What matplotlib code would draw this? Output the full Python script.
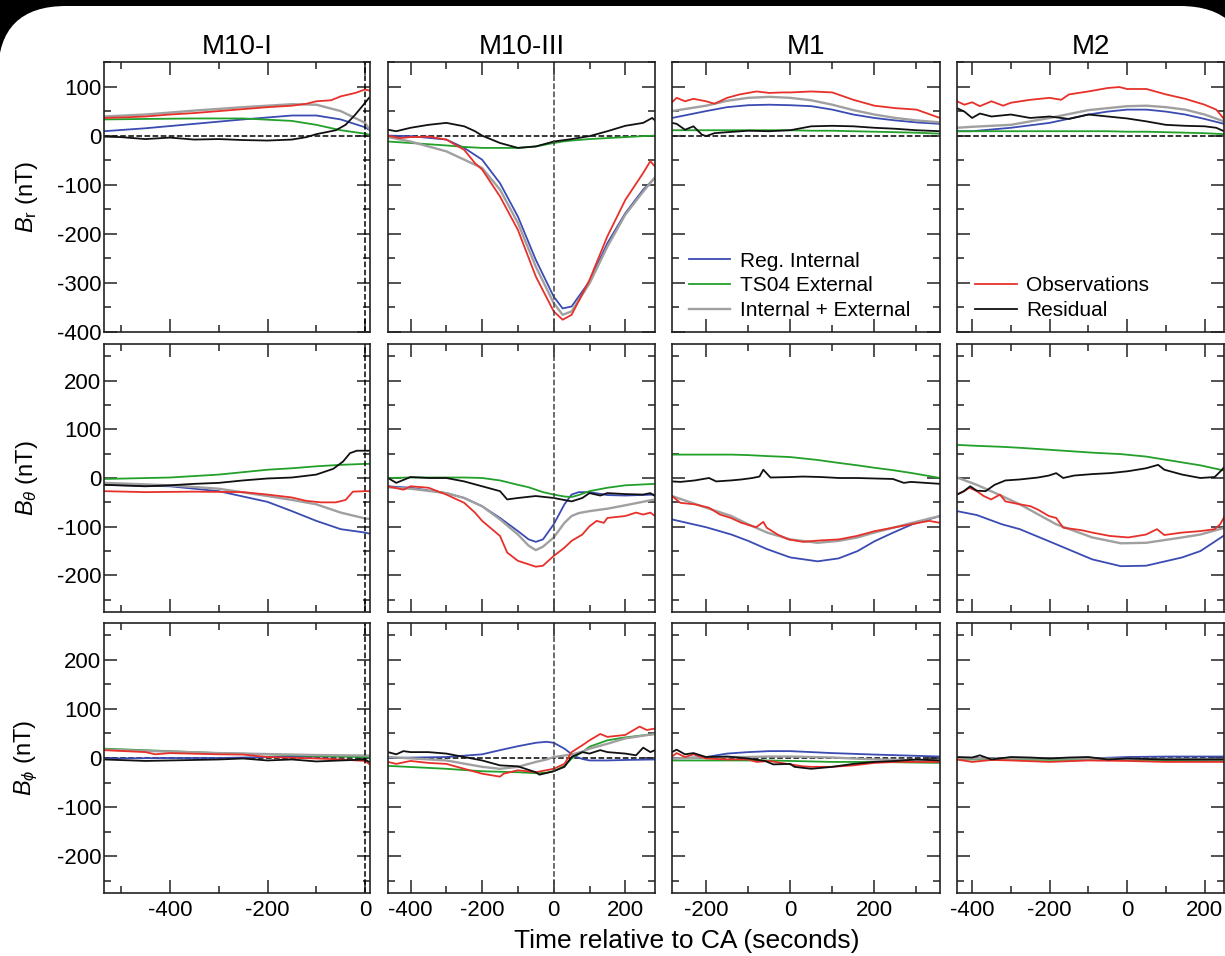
import numpy as np
import matplotlib.pyplot as plt
from matplotlib.patches import FancyBboxPatch
from matplotlib.transforms import IdentityTransform
from matplotlib.ticker import MultipleLocator

plt.rcParams['font.family'] = ['Liberation Sans', 'DejaVu Sans']
plt.rcParams['axes.unicode_minus'] = False
plt.rcParams['mathtext.fontset'] = 'custom'
plt.rcParams['mathtext.rm'] = 'Liberation Sans'
plt.rcParams['mathtext.it'] = 'Liberation Sans:italic'

# ---------------- data (nT vs seconds from CA) ----------------
# M10-I, B_r
m10i_br_t = [-535, -450, -350, -250, -150, -100, -50, 0, 8]
m10i_br_reg = [9, 15, 24, 33, 41, 41, 33, 17, 12]
m10i_br_ext = [33, 34, 35, 35, 30, 22, 11, 4, 2]
m10i_br_tot = [39, 43, 51, 58, 64, 63, 50, 26, 14]
m10i_br_obs_t = [-535, -500, -450, -400, -350, -300, -250, -200, -150, -120, -100, -70, -50, -20, 0, 8]
m10i_br_obs = [36, 37, 39, 43, 46, 50, 54, 58, 61, 65, 70, 72, 80, 87, 94, 92]
m10i_br_res_t = [-535, -500, -450, -400, -350, -300, -250, -200, -150, -120, -100, -60, -40, -20, 0, 8]
m10i_br_res = [-2, -3, -7, -4, -8, -7, -9, -10, -8, -3, 3, 11, 22, 43, 67, 77]

# M10-III, B_r
m10iii_br_t = [-463, -400, -300, -250, -200, -150, -100, -50, 0, 25, 50, 100, 150, 200, 250, 283]
m10iii_br_reg = [0, -1, -8, -25, -49, -97, -165, -253, -328, -352, -348, -297, -219, -158, -110, -86]
m10iii_br_ext = [-12, -15, -20, -23, -25, -25, -25, -22, -15, -12, -10, -7, -5, -3, -1, 0]
m10iii_br_tot = [-3, -12, -32, -49, -66, -110, -178, -267, -341, -365, -358, -301, -226, -161, -114, -85]
m10iii_br_obs_t = [-463, -430, -400, -350, -300, -250, -220, -200, -150, -100, -50, 0, 25, 50, 100, 150, 200, 250, 270, 283]
m10iii_br_obs = [0, -5, -3, -2, -8, -29, -56, -69, -124, -192, -287, -358, -375, -365, -294, -205, -131, -76, -52, -63]
m10iii_br_res_t = [-463, -440, -400, -350, -300, -250, -220, -200, -150, -100, -50, 0, 50, 100, 150, 200, 250, 275, 283]
m10iii_br_res = [12, 9, 16, 22, 26, 19, 9, 0, -15, -25, -22, -12, -7, -1, 9, 20, 26, 36, 31]

# M1, B_r
m1_br_t = [-281, -200, -150, -100, -50, 0, 50, 100, 150, 200, 250, 300, 356]
m1_br_reg = [36, 50, 58, 62, 63, 62, 60, 53, 43, 36, 31, 27, 24]
m1_br_ext = [11, 11, 11, 11, 11, 11, 10, 10, 9, 8, 7, 6, 4]
m1_br_tot = [50, 61, 71, 77, 79, 77, 72, 63, 52, 43, 36, 31, 27]
m1_br_obs_t = [-281, -270, -250, -230, -200, -180, -150, -120, -100, -80, -50, -20, 0, 50, 100, 150, 200, 250, 300, 356]
m1_br_obs = [68, 77, 70, 75, 70, 65, 77, 84, 87, 90, 87, 88, 88, 90, 88, 73, 61, 56, 53, 36]
m1_br_res_t = [-281, -270, -250, -230, -210, -200, -180, -150, -100, -50, 0, 50, 100, 150, 200, 250, 300, 356]
m1_br_res = [26, 24, 12, 19, 2, -1, 5, 7, 10, 9, 11, 19, 20, 19, 16, 14, 11, 9]

# M2, B_r
m2_br_t = [-439, -400, -300, -200, -100, -50, 0, 50, 100, 150, 200, 250]
m2_br_reg = [9, 9, 16, 26, 43, 49, 53, 53, 49, 43, 34, 24]
m2_br_ext = [9, 9, 9, 9, 9, 9, 8, 8, 7, 6, 5, 3]
m2_br_tot = [16, 18, 22, 36, 52, 56, 60, 61, 58, 53, 43, 29]
m2_br_obs_t = [-439, -420, -400, -380, -350, -320, -300, -250, -200, -170, -150, -100, -50, -20, 0, 50, 100, 150, 200, 230, 250]
m2_br_obs = [70, 63, 68, 60, 70, 61, 67, 73, 77, 73, 84, 90, 97, 99, 95, 95, 84, 75, 63, 53, 34]
m2_br_res_t = [-439, -420, -400, -380, -350, -300, -250, -200, -150, -100, -50, 0, 50, 100, 150, 200, 230, 250]
m2_br_res = [56, 49, 36, 45, 39, 43, 36, 39, 34, 43, 39, 35, 29, 22, 20, 19, 16, 9]

# M10-I, B_theta
m10i_bt_t = [-535, -400, -300, -200, -150, -100, -50, 0, 8]
m10i_bt_reg = [-14, -17, -27, -49, -68, -88, -105, -112, -114]
m10i_bt_ext = [-2, 1, 7, 17, 20, 24, 27, 29, 29]
m10i_bt_tot = [-10, -15, -22, -37, -45, -54, -71, -83, -84]
m10i_bt_obs_t = [-535, -450, -350, -250, -200, -150, -120, -90, -60, -40, -25, 0, 8]
m10i_bt_obs = [-27, -29, -28, -29, -34, -40, -47, -50, -50, -45, -28, -27, -27]
m10i_bt_res_t = [-535, -450, -400, -350, -300, -250, -200, -150, -100, -65, -45, -31, -17, 0, 8]
m10i_bt_res = [-14, -17, -15, -12, -10, -5, -1, 1, 7, 19, 34, 51, 56, 56, 56]

# M10-III, B_theta
m10iii_bt_t = [-463, -400, -300, -250, -200, -150, -100, -70, -50, -30, 0, 30, 50, 70, 100, 150, 200, 283]
m10iii_bt_reg = [-17, -20, -31, -41, -58, -82, -109, -126, -131, -126, -95, -54, -34, -29, -29, -35, -36, -34]
m10iii_bt_ext = [0, 1, 1, 1, 0, -5, -14, -19, -24, -29, -34, -38, -39, -35, -27, -20, -15, -12]
m10iii_bt_tot = [-19, -22, -31, -41, -58, -85, -116, -139, -148, -141, -122, -92, -78, -72, -68, -63, -56, -44]
m10iii_bt_obs_t = [-463, -420, -400, -350, -300, -250, -220, -200, -150, -130, -100, -50, -30, 0, 30, 50, 80, 100, 120, 140, 150, 200, 230, 250, 270, 283]
m10iii_bt_obs = [-17, -24, -17, -20, -34, -51, -71, -88, -119, -153, -170, -182, -180, -160, -143, -129, -116, -99, -88, -92, -82, -78, -71, -75, -71, -78]
m10iii_bt_res_t = [-463, -440, -400, -350, -300, -250, -200, -150, -130, -100, -50, 0, 50, 80, 100, 130, 150, 200, 250, 270, 283]
m10iii_bt_res = [0, -10, 2, 0, 0, -7, -17, -27, -44, -41, -37, -41, -48, -41, -31, -36, -31, -33, -34, -31, -37]

# M1, B_theta
m1_bt_t = [-281, -200, -140, -100, -55, 0, 65, 115, 160, 200, 245, 290, 356]
m1_bt_reg = [-85, -101, -116, -129, -146, -163, -171, -165, -150, -130, -112, -95, -78]
m1_bt_ext = [48, 48, 48, 47, 45, 43, 37, 31, 26, 21, 16, 10, 0]
m1_bt_tot = [-37, -61, -78, -95, -112, -126, -133, -129, -122, -112, -102, -92, -78]
m1_bt_obs_t = [-281, -261, -227, -193, -167, -141, -116, -81, -64, -56, -30, -4, 30, 73, 116, 158, 201, 244, 287, 330, 356]
m1_bt_obs = [-37, -51, -54, -61, -75, -82, -92, -101, -90, -102, -116, -126, -131, -128, -126, -119, -109, -102, -95, -88, -92]
m1_bt_res_t = [-281, -261, -227, -193, -176, -141, -116, -90, -73, -64, -47, 0, 30, 73, 116, 158, 201, 244, 270, 287, 356]
m1_bt_res = [-7, -8, -5, 0, -7, -5, -3, 0, 3, 17, 1, 2, 3, 2, 0, 0, -1, -2, -10, -8, -12]

# M2, B_theta
m2_bt_t = [-439, -388, -323, -277, -183, -90, -16, 49, 142, 189, 252]
m2_bt_reg = [-68, -76, -95, -105, -136, -167, -181, -180, -163, -150, -117]
m2_bt_ext = [68, 66, 64, 62, 57, 52, 49, 44, 32, 26, 15]
m2_bt_tot = [1, -14, -37, -54, -95, -122, -134, -133, -122, -116, -102]
m2_bt_obs_t = [-439, -421, -407, -388, -370, -351, -328, -314, -277, -249, -230, -202, -183, -165, -118, -90, -44, 3, 49, 77, 96, 142, 189, 226, 240, 252]
m2_bt_obs = [-34, -27, -20, -27, -37, -44, -34, -48, -54, -58, -65, -78, -82, -102, -107, -112, -119, -122, -116, -105, -117, -112, -109, -105, -95, -78]
m2_bt_res_t = [-439, -421, -405, -388, -365, -342, -314, -277, -230, -202, -183, -165, -137, -90, -44, 3, 49, 80, 96, 142, 189, 226, 245, 252]
m2_bt_res = [-34, -27, -17, -26, -27, -14, -5, -3, 1, 5, 10, 0, 5, 8, 10, 14, 20, 27, 17, 7, 0, 2, 17, 24]

# M10-I, B_phi
m10i_bp_t = [-535, -400, -300, -200, -100, 0, 8]
m10i_bp_reg = [-1, 0, 0, 2, 3, 4, 4]
m10i_bp_ext = [19, 14, 10, 7.5, 4, 2, 1]
m10i_bp_tot = [17, 13, 10, 8, 6, 5, 5]
m10i_bp_obs_t = [-535, -450, -430, -400, -300, -250, -200, -100, -50, 0, 8]
m10i_bp_obs = [16, 12, 7.5, 10, 7.5, 7, 2, -1, -3, -6, -12]
m10i_bp_res_t = [-535, -450, -400, -300, -250, -200, -150, -100, -50, 0, 8]
m10i_bp_res = [-3, -6, -5, -3, -1, -5, -3, -7, -5, -3, -8]

# M10-III, B_phi
m10iii_bp_t = [-463, -300, -200, -150, -100, -50, -20, 0, 30, 50, 60, 80, 100, 150, 200, 283]
m10iii_bp_reg = [0, 2, 7.5, 16, 24, 31, 33, 31, 19, 8, 3, -2, -5, -5, -4, -3]
m10iii_bp_ext = [-16, -22, -27, -28, -29, -31, -30, -27, -16, -1, 4, 12, 23, 36, 42, 49]
m10iii_bp_tot = [2, -5, -18, -22, -18, -8, -3, 2, 5, 7.5, 9, 13, 19, 29, 40, 49]
m10iii_bp_obs_t = [-463, -440, -400, -350, -300, -250, -200, -150, -140, -100, -50, 0, 30, 50, 80, 100, 130, 150, 200, 240, 260, 283]
m10iii_bp_obs = [-8, -12, -6, -10, -12, -22, -32, -38, -32, -25, -29, -22, -12, 12, 26, 36, 49, 43, 47, 64, 57, 60]
m10iii_bp_res_t = [-463, -440, -420, -400, -350, -300, -250, -200, -150, -100, -50, -40, 0, 30, 50, 80, 100, 130, 150, 200, 230, 250, 270, 283]
m10iii_bp_res = [12, 7.5, 14, 12, 12, 9, 2, -5, -15, -17, -29, -34, -27, -18, 2, 12, 9, 16, 12, 9, 5.5, 21, 12, 16]

# M1, B_phi
m1_bp_t = [-281, -200, -150, -100, -50, 0, 50, 100, 200, 356]
m1_bp_reg = [-1, 2, 9, 12, 14, 14, 12, 10, 7, 3]
m1_bp_ext = [-5, -5, -5, -5, -5, -6, -7, -8, -8, -10]
m1_bp_tot = [-1, 1, 2, 2, 3, 3, 2, 1, -3, -5]
m1_bp_obs_t = [-281, -270, -250, -230, -200, -150, -100, -80, -50, 0, 30, 50, 100, 150, 200, 250, 356]
m1_bp_obs = [3, 10, 2, 7.5, -1, -3, -3, -8, -6, -13, -17, -18, -18, -15, -10, -8, -8]
m1_bp_res_t = [-281, -270, -250, -230, -200, -150, -100, -60, -40, 0, 10, 50, 100, 150, 200, 250, 300, 356]
m1_bp_res = [12, 17, 7.5, 10, 2, 3, -1, -6, -13, -12, -18, -22, -18, -12, -8, -6, -3, -5]

# M2, B_phi
m2_bp_t = [-439, -100, 0, 100, 250]
m2_bp_reg = [-1, -1, 2, 3, 3]
m2_bp_ext = [-3, -4, -4, -5, -6]
m2_bp_tot = [-1, -1, -2, -2, -3]
m2_bp_obs_t = [-439, -400, -350, -300, -200, -100, 0, 100, 250]
m2_bp_obs = [-3, -8, -4, -5, -8, -5, -6, -8, -8]
m2_bp_res_t = [-439, -400, -380, -350, -300, -250, -200, -150, -100, -50, 0, 100, 250]
m2_bp_res = [2, 1, 5.5, -3, 2, 1, -1, 1, 2, -3, -1, -3, -3]

titles = ['M10-I', 'M10-III', 'M1', 'M2']
ylabels = [r'$B_{\rm r}$ (nT)', r'$B_\theta$ (nT)', r'$B_\phi$ (nT)']

panels = [
    [(m10i_br_t, m10i_br_reg, m10i_br_ext, m10i_br_tot, m10i_br_obs_t, m10i_br_obs, m10i_br_res_t, m10i_br_res),
     (m10iii_br_t, m10iii_br_reg, m10iii_br_ext, m10iii_br_tot, m10iii_br_obs_t, m10iii_br_obs, m10iii_br_res_t, m10iii_br_res),
     (m1_br_t, m1_br_reg, m1_br_ext, m1_br_tot, m1_br_obs_t, m1_br_obs, m1_br_res_t, m1_br_res),
     (m2_br_t, m2_br_reg, m2_br_ext, m2_br_tot, m2_br_obs_t, m2_br_obs, m2_br_res_t, m2_br_res)],
    [(m10i_bt_t, m10i_bt_reg, m10i_bt_ext, m10i_bt_tot, m10i_bt_obs_t, m10i_bt_obs, m10i_bt_res_t, m10i_bt_res),
     (m10iii_bt_t, m10iii_bt_reg, m10iii_bt_ext, m10iii_bt_tot, m10iii_bt_obs_t, m10iii_bt_obs, m10iii_bt_res_t, m10iii_bt_res),
     (m1_bt_t, m1_bt_reg, m1_bt_ext, m1_bt_tot, m1_bt_obs_t, m1_bt_obs, m1_bt_res_t, m1_bt_res),
     (m2_bt_t, m2_bt_reg, m2_bt_ext, m2_bt_tot, m2_bt_obs_t, m2_bt_obs, m2_bt_res_t, m2_bt_res)],
    [(m10i_bp_t, m10i_bp_reg, m10i_bp_ext, m10i_bp_tot, m10i_bp_obs_t, m10i_bp_obs, m10i_bp_res_t, m10i_bp_res),
     (m10iii_bp_t, m10iii_bp_reg, m10iii_bp_ext, m10iii_bp_tot, m10iii_bp_obs_t, m10iii_bp_obs, m10iii_bp_res_t, m10iii_bp_res),
     (m1_bp_t, m1_bp_reg, m1_bp_ext, m1_bp_tot, m1_bp_obs_t, m1_bp_obs, m1_bp_res_t, m1_bp_res),
     (m2_bp_t, m2_bp_reg, m2_bp_ext, m2_bp_tot, m2_bp_obs_t, m2_bp_obs, m2_bp_res_t, m2_bp_res)],
]

# ---------------- layout (pixel boxes of the panels) ----------------
W, H = 1225, 956
col_px = [(104, 370), (388, 655), (672, 940), (957, 1224)]
row_px = [(62, 332), (344, 612), (623, 893)]
xlims = [(-535, 10), (-463, 283), (-281, 356), (-439, 250)]
ylims = [(-400, 150), (-275, 275), (-275, 275)]

c_reg, c_ext, c_tot, c_obs, c_res = '#3a4bb2', '#22a02a', '#a0a0a0', '#e8302a', '#111111'

fig = plt.figure(figsize=(W / 100, H / 100), dpi=100, facecolor='black')
# white sheet with rounded top corners over the black background
sheet = FancyBboxPatch((-2, -120), 1250, H - 6 + 120, boxstyle='round,pad=0,rounding_size=68',
                       transform=IdentityTransform(), fc='white', ec='none', zorder=-10)
fig.add_artist(sheet)

for i, (top, bot) in enumerate(row_px):
    for j, (lft, rgt) in enumerate(col_px):
        ax = fig.add_axes([lft / W, 1 - bot / H, (rgt - lft) / W, (bot - top) / H])
        t, reg, ext, tot, to, obs, tr, res = panels[i][j]
        h1, = ax.plot(t, reg, color=c_reg, lw=1.3, label='Reg. Internal')
        h2, = ax.plot(t, ext, color=c_ext, lw=1.3, label='TS04 External')
        h3, = ax.plot(t, tot, color=c_tot, lw=1.7, label='Internal + External')
        h4, = ax.plot(to, obs, color=c_obs, lw=1.3, label='Observations')
        h5, = ax.plot(tr, res, color=c_res, lw=1.3, label='Residual')

        if i != 1:
            ax.axhline(0, color='black', ls='--', lw=1.1, zorder=1)
        if j == 0:
            ax.axvline(0, color='black', ls='--', lw=1.1)
        elif j == 1:
            ax.axvline(0, color='#444444', ls='--', lw=1.1)

        ax.set_xlim(*xlims[j])
        ax.set_ylim(*ylims[i])
        ax.xaxis.set_major_locator(MultipleLocator(200))
        ax.xaxis.set_minor_locator(MultipleLocator(100))
        ax.yaxis.set_major_locator(MultipleLocator(100))
        ax.yaxis.set_minor_locator(MultipleLocator(50))
        ax.tick_params(which='both', direction='in', top=True, right=True, width=1.1, color='#222222')
        ax.tick_params(which='major', length=9.5)
        ax.tick_params(which='minor', length=5)
        ax.tick_params(axis='y', labelsize=16, pad=2, labelleft=(j == 0))
        ax.tick_params(axis='x', labelsize=16, pad=5, labelbottom=(i == 2))
        for sp in ax.spines.values():
            sp.set_linewidth(1.2)
            sp.set_color('#222222')

        if i == 0:
            ax.set_title(titles[j], fontsize=20, pad=6)
            if j == 2:
                ax.legend(handles=[h1, h2, h3], loc='lower left', bbox_to_anchor=(0.062, 0.045),
                          frameon=False, fontsize=15, handlelength=2.0, handletextpad=0.45,
                          labelspacing=0.27, borderpad=0, borderaxespad=0)
            if j == 3:
                ax.legend(handles=[h4, h5], loc='lower left', bbox_to_anchor=(0.068, 0.045),
                          frameon=False, fontsize=15, handlelength=2.0, handletextpad=0.45,
                          labelspacing=0.27, borderpad=0, borderaxespad=0)
        if j == 0:
            ax.set_ylabel(ylabels[i], fontsize=17)
            ax.yaxis.set_label_coords(-0.24, 0.5)

fig.text(687 / W, 1 - 941 / H, 'Time relative to CA (seconds)', fontsize=19, ha='center', va='center')

fig.savefig('out.png', dpi=100)
